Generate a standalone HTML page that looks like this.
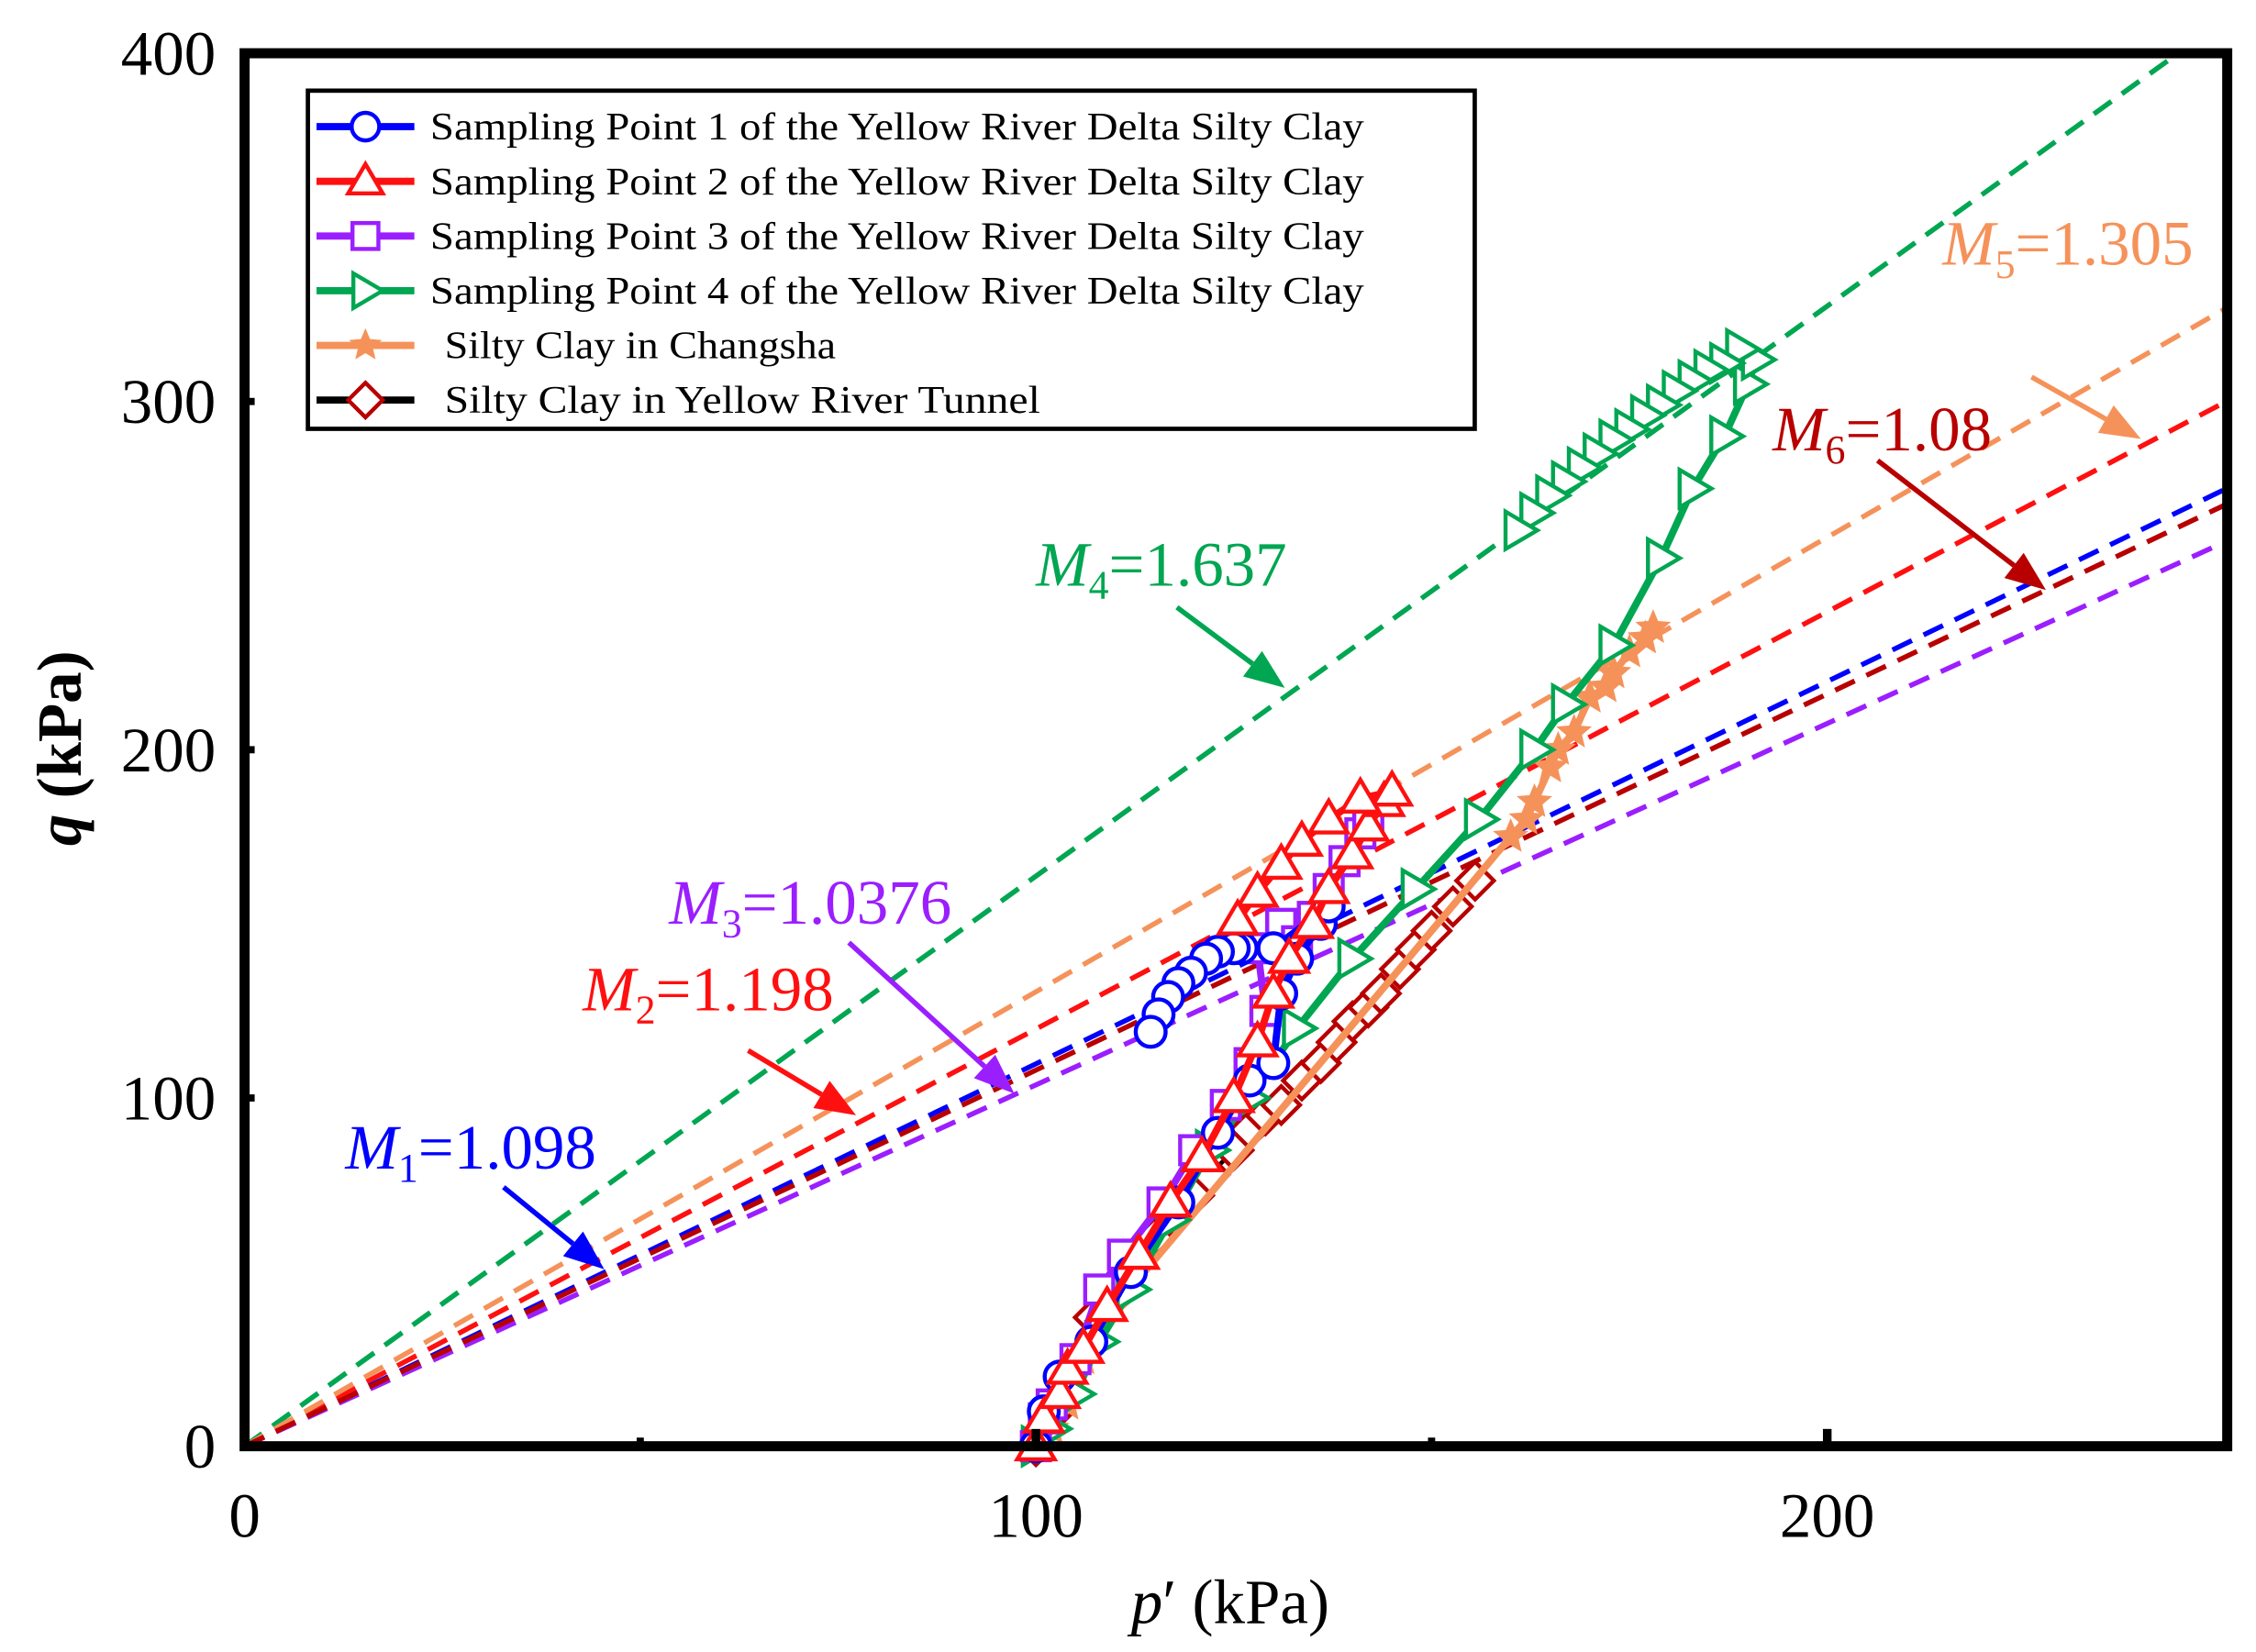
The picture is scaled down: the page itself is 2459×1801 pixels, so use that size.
<!DOCTYPE html>
<html><head><meta charset="utf-8"><style>
html,body{margin:0;padding:0;background:#fff;}
svg{display:block;font-family:"Liberation Serif",serif;}
</style></head><body>
<svg id="chart" width="2459" height="1801" viewBox="0 0 1568 1148" preserveAspectRatio="none" xmlns="http://www.w3.org/2000/svg">
<g id="plot"></g>
<rect x="170" y="37" width="1378" height="968" fill="none" stroke="#000" stroke-width="7"/>
<g id="axes"></g>
<text x="855" y="1128" font-size="44" text-anchor="middle"><tspan font-style="italic">p</tspan>′ (kPa)</text>
<text transform="translate(56,520) rotate(-90)" font-size="44" text-anchor="middle" font-weight="bold"><tspan font-style="italic">q</tspan> (kPa)</text>
<g id="legend"></g>
<g id="annot"></g>
</svg>
<script>
const xTicks=[0,100,200];
const xMinor=[50,150];
const yTicks=[0,100,200,300,400];
const slopes=[1.098,1.198,1.0376,1.637,1.305,1.08];
const slopeLabels=["1.098","1.198","1.0376","1.637","1.305","1.08"];
const seriesNames=["Sampling Point 1 of the Yellow River Delta Silty Clay","Sampling Point 2 of the Yellow River Delta Silty Clay","Sampling Point 3 of the Yellow River Delta Silty Clay","Sampling Point 4 of the Yellow River Delta Silty Clay","Silty Clay in Changsha","Silty Clay  in Yellow River Tunnel"];
const s1p=[100,101,103,107,112,118,123,127,130,131,133,136,137,130,126,125,123,121.5,119.6,118,116.7,115.5,114.5];
const s1q=[0,10,20,30,50,70,90,105,110,130,140,150,155,143,143,143,142,140,136,133,129,124,119];
const s2p=[100,101,103,104,106,109,113,117,121,125,128,130,132,135,137,140,142,144,145,141,137,133.6,131,128,125.5];
const s2q=[0,8,15,22,28,40,55,70,83,100,116,130,140,150,160,170,178,185,188,186,180,173.6,167,159,151];
const s3p=[100,101,102,105,108,111,116,120,124,127,129,128,131,133,135,137,139,141,142];
const s3q=[0,8,12,25,45,55,70,85,98,110,125,143,150,145,152,160,168,176,180];
const s4p=[100,102,105,108,112,117,122,127,133,140,148,156,163,167,173,179,183,187,190,191,189,187,185,183,181,179,177,175,173,171,169,167,165,163,161];
const s4q=[0,5,15,30,45,65,85,100,120,140,160,180,200,213,230,255,275,290,305,312,315,311,309,306,303,299,296,292,289,285,281,277,273,268,263];
const s5p=[102,104,106,110,160,162,163,165,166,168,170,172,173,175,177,178];
const s5q=[5,12,25,40,175,180,185,195,200,205,215,218,222,228,232,235];
const s6p=[100,102.4,107.3,110,112,115,117,120,122,125,127,129,131,133.6,136,138,140,142,143.6,146,148,150,152.7,155.5];
const s6q=[0,10,37,45,52,60,66,72,78,85,91,95,98,105,110,116,122,126,130,137,142.6,148,155,162.4];
const X=p=>170+5.5*p, Y=q=>1005-2.42*q;
const NS="http://www.w3.org/2000/svg";
function mk(tag,attrs,parent){const e=document.createElementNS(NS,tag);for(const k in attrs)e.setAttribute(k,attrs[k]);parent.appendChild(e);return e;}
const plot=document.getElementById('plot'),axes=document.getElementById('axes'),leg=document.getElementById('legend'),an=document.getElementById('annot');
const colors=["#0000ff","#ff1010","#9b1eff","#00a651","#f5925a","#b80000"];
const lineColors=["#0000ff","#ff1010","#9b1eff","#00a651","#f5925a","#000000"];
const markers=["circle","tri","square","rtri","star","diamond"];
slopes.forEach((m,i)=>{
  const pEnd=Math.min(251,400/m);
  const l=mk('line',{x1:X(0),y1:Y(0),x2:X(pEnd),y2:Y(m*pEnd),stroke:colors[i],'stroke-width':3.5,'stroke-dasharray':'15 9'},plot);
  
  
});
function marker(type,x,y,c,parent,s){
  let e;
  if(type==='circle')e=mk('circle',{cx:x,cy:y,r:s*0.8},parent);
  else if(type==='square')e=mk('rect',{x:x-s*0.75,y:y-s*0.75,width:s*1.5,height:s*1.5},parent);
  else if(type==='tri')e=mk('polygon',{points:`${x},${y-s} ${x-s},${y+s*0.7} ${x+s},${y+s*0.7}`},parent);
  else if(type==='rtri')e=mk('polygon',{points:`${x+s},${y} ${x-s*0.7},${y-s} ${x-s*0.7},${y+s}`},parent);
  else if(type==='diamond')e=mk('polygon',{points:`${x},${y-s} ${x+s},${y} ${x},${y+s} ${x-s},${y}`},parent);
  else {let pts=[];for(let k=0;k<10;k++){const r=k%2?s*0.45:s;const a=-Math.PI/2+k*Math.PI/5;pts.push((x+r*Math.cos(a))+','+(y+r*Math.sin(a)));}e=mk('polygon',{points:pts.join(' ')},parent);}
  if(type==='star'){e.setAttribute('fill',c);}else{e.setAttribute('fill','#fff');e.setAttribute('stroke',c);e.setAttribute('stroke-width',2.8);}
  return e;
}
const P=[s1p,s2p,s3p,s4p,s5p,s6p],Q=[s1q,s2q,s3q,s4q,s5q,s6q];
const order=[5,4,3,2,0,1];
order.forEach(i=>{
  const g=mk('g',{},plot);
  
  
  const pts=P[i].map((p,k)=>X(p)+','+Y(Q[i][k])).join(' ');
  const pl=mk('polyline',{points:pts,fill:'none',stroke:lineColors[i],'stroke-width':i==5?3:5},g);
  
  
  P[i].forEach((p,k)=>{
    const m=marker(markers[i],X(p),Y(Q[i][k]),colors[i],g,13);
    
    
  });
});
xTicks.forEach(t=>{
  mk('line',{x1:X(t),y1:1005,x2:X(t),y2:993,stroke:'#000','stroke-width':6},axes);
  const tx=mk('text',{x:X(t),y:1068,'font-size':44,'text-anchor':'middle'},axes);tx.textContent=t;
  
  
});
xMinor.forEach(t=>{mk('line',{x1:X(t),y1:1005,x2:X(t),y2:999,stroke:'#000','stroke-width':5},axes);});
yTicks.forEach(t=>{
  mk('line',{x1:170,y1:Y(t),x2:177,y2:Y(t),stroke:'#000','stroke-width':5},axes);
  const tx=mk('text',{x:150,y:Y(t)+15,'font-size':44,'text-anchor':'end'},axes);tx.textContent=t;
  
  
});
mk('rect',{x:214,y:63,width:811,height:235,fill:'#fff',stroke:'#000','stroke-width':3},leg);
const legX=[299,299,299,299,309,309],legW=[649,649,649,649,272,414];
seriesNames.forEach((n,i)=>{
  const y=88+38*i;
  const g=mk('g',{},leg);
  
  
  mk('line',{x1:220,y1:y,x2:288,y2:y,stroke:lineColors[i],'stroke-width':5},g);
  marker(markers[i],254,y,colors[i],g,12);
  const t=mk('text',{x:legX[i],y:y+9,'font-size':27,textLength:legW[i],lengthAdjust:'spacingAndGlyphs'},g);t.textContent=n;
  t.setAttribute('xml:space','preserve');
});
const annPos=[[240,812],[405,702],[465,642],[720,407],[1350,184],[1232,313]];
const arrows=[[350,825,420,882],[520,730,595,775],[590,655,705,760],[818,422,893,478],[1412,262,1488,305],[1305,320,1422,410]];
slopes.forEach((m,i)=>{
  const t=mk('text',{x:annPos[i][0],y:annPos[i][1],'font-size':44,fill:colors[i]},an);
  
  
  t.innerHTML=`<tspan font-style="italic">M</tspan><tspan font-size="28" dy="9">${i+1}</tspan><tspan dy="-9">=${slopeLabels[i]}</tspan>`;
  const [x1,y1,x2,y2]=arrows[i];
  const a=mk('g',{},an);
  
  
  const ang=Math.atan2(y2-y1,x2-x1),L=28,W=11;
  const bx=x2-L*Math.cos(ang),by=y2-L*Math.sin(ang);
  mk('line',{x1:x1,y1:y1,x2:bx,y2:by,stroke:colors[i],'stroke-width':3.5},a);
  mk('polygon',{points:`${x2},${y2} ${bx+W*Math.sin(ang)},${by-W*Math.cos(ang)} ${bx-W*Math.sin(ang)},${by+W*Math.cos(ang)}`,fill:colors[i]},a);
});
</script>
</body></html>
